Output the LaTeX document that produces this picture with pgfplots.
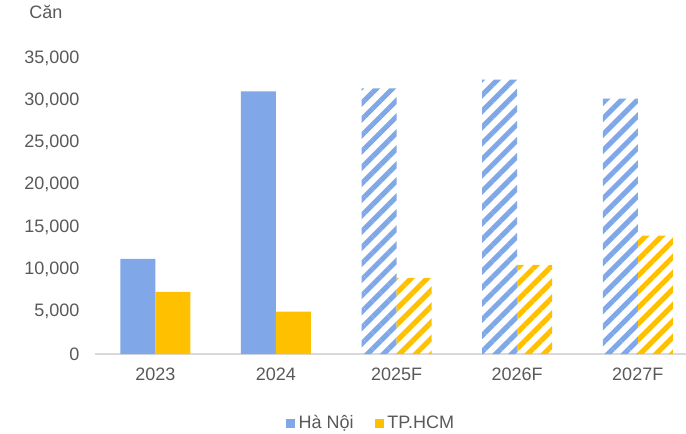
\documentclass[border=0pt]{standalone}
\usepackage{pgfplots}
\pgfplotsset{compat=1.18}
\usepackage{fontspec}
\setmainfont{Liberation Sans}
\usetikzlibrary{patterns.meta}
\definecolor{hnblue}{HTML}{80A8E8}
\definecolor{hcmyel}{HTML}{FFC000}
\definecolor{txtgray}{HTML}{595959}
\definecolor{axgray}{HTML}{D9D9D9}
\begin{document}
\fontsize{13.5pt}{16pt}\selectfont
\begin{tikzpicture}
\begin{axis}[
  at={(0,0)}, anchor=south west,
  scale only axis,
  width=443.25pt, height=222pt,
  ymin=0, ymax=35000,
  xmin=-0.5, xmax=4.4,
  ytick={0,5000,10000,15000,20000,25000,30000,35000},
  scaled y ticks=false,
  xtick={0,1,2,3,4},
  xticklabels={2023,2024,2025F,2026F,2027F},
  /pgf/number format/.cd, 1000 sep={,}, assume math mode=true, /pgfplots/.cd,
  tick style={draw=none},
  axis x line*=bottom,
  axis y line*=left,
  x axis line style={draw=axgray, line width=1.1pt, -},
  y axis line style={draw=none},
  ticklabel style={font=\fontsize{13.5pt}{16pt}\selectfont, text=txtgray},
  yticklabel style={xshift=-7pt},
  xticklabel style={yshift=-6pt},
  clip=false,
  legend style={draw=none, at={(0.468,-0.235)}, anchor=center, legend columns=2,
    font=\fontsize{13.5pt}{16pt}\selectfont, text=txtgray,
    /tikz/every odd column/.append style={column sep=0.5pt},
    /tikz/every even column/.append style={column sep=14pt}},
  legend image code/.code={\fill[#1, draw=none] (0pt,-3.4pt) rectangle (6.8pt,3.4pt);},
]
% solid bars
\addplot[ybar, bar width=26.25pt, bar shift=-13.125pt, fill=hnblue, draw=none]
  coordinates {(0,11250) (1,31050)};
\addlegendentry{Hà Nội}
\addplot[ybar, bar width=26.25pt, bar shift=13.125pt, fill=hcmyel, draw=none]
  coordinates {(0,7350) (1,5000)};
\addlegendentry{TP.HCM}
% hatched forecast bars
\addplot[ybar, bar width=26.25pt, bar shift=-13.125pt, draw=none, forget plot,
  pattern={Lines[angle=45,distance=8.5pt,line width=3.8pt]}, pattern color=hnblue]
  coordinates {(2,31400) (3,32450) (4,30200)};
\addplot[ybar, bar width=26.25pt, bar shift=13.125pt, draw=none, forget plot,
  pattern={Lines[angle=45,distance=8.5pt,line width=3.8pt]}, pattern color=hcmyel]
  coordinates {(2,9000) (3,10550) (4,14000)};
\end{axis}
\node[text=txtgray, font=\fontsize{13.5pt}{16pt}\selectfont] at (-36.75pt,256.5pt) {Căn};
\pgfresetboundingbox
\path[use as bounding box] (-71.25pt,-59.25pt) rectangle (443.25pt,265.5pt);
\end{tikzpicture}
\end{document}
